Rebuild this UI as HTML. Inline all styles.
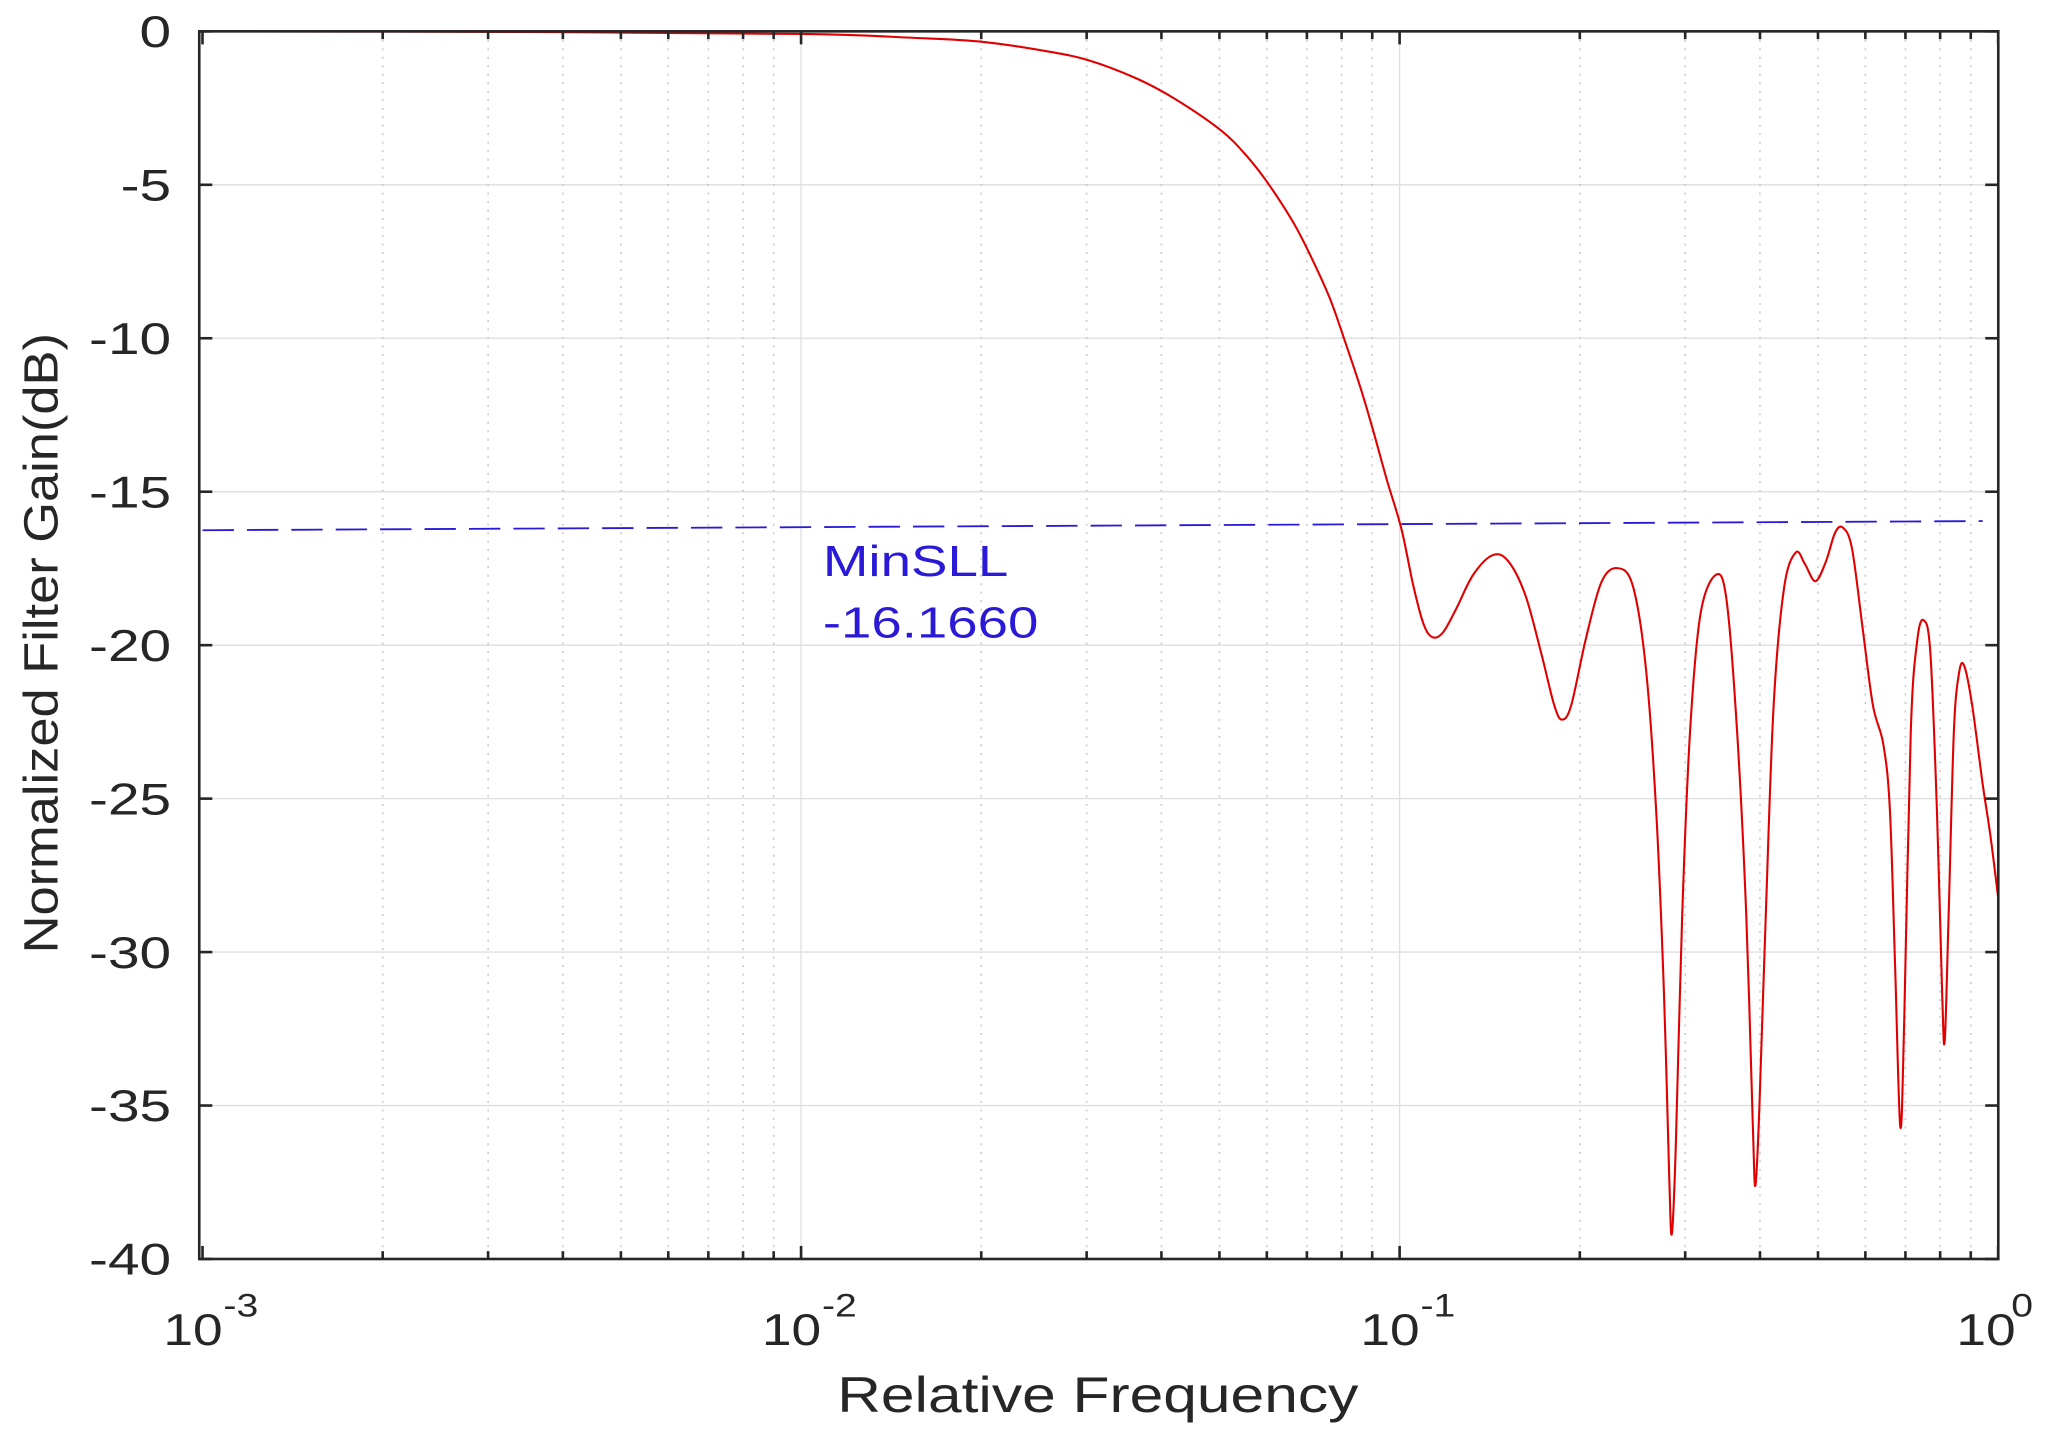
<!DOCTYPE html>
<html><head><meta charset="utf-8"><style>
html,body{margin:0;padding:0;background:#fff;}
svg{display:block;}
text{font-family:"Liberation Sans",Arial,sans-serif;fill:#262626;}
</style></head><body>
<svg id="s" width="2048" height="1434" viewBox="0 0 1568 1098" xmlns="http://www.w3.org/2000/svg">
<rect x="0" y="0" width="1568" height="1098" fill="#fff"/>
<g id="grid"></g>
<line x1="155" y1="406" x2="1518" y2="399" stroke="#2a1ad8" stroke-width="1.4" stroke-dasharray="24,10"/>
<path id="curve" fill="none" stroke="#e00000" stroke-width="1.6" stroke-linejoin="round" d=""/>
<rect x="152.5" y="24" width="1377.5" height="940" fill="none" stroke="#262626" stroke-width="2"/>
<g id="ticks"></g>
<text x="630" y="441" font-size="33" textLength="142" lengthAdjust="spacingAndGlyphs" style="fill:#2a1ad8">MinSLL</text>
<text x="630" y="488" font-size="33" textLength="165" lengthAdjust="spacingAndGlyphs" style="fill:#2a1ad8">-16.1660</text>
<text x="641" y="1081" font-size="38" textLength="399" lengthAdjust="spacingAndGlyphs">Relative Frequency</text>
<text transform="translate(44,730) rotate(-90)" font-size="37" textLength="475" lengthAdjust="spacingAndGlyphs">Normalized Filter Gain(dB)</text>
</svg>
<script>
var NS="http://www.w3.org/2000/svg";
function el(p,t,a,txt){var e=document.createElementNS(NS,t);for(var k in a)e.setAttribute(k,a[k]);if(txt!==undefined)e.textContent=txt;p.appendChild(e);return e;}
var g=document.getElementById('grid'),tk=document.getElementById('ticks'),s=document.getElementById('s');
var L=152.5,R=1530,T=24,B=964;
function X(lf){return 155+(lf+3)*458.3;}
function Y(d){return T+(-d)*(B-T)/40;}
for(var d=0;d>=-40;d-=5){var y=Y(d);
 if(d>-40&&d<0)el(g,'line',{x1:L,x2:R,y1:y,y2:y,stroke:'#dedede','stroke-width':1});
 el(tk,'line',{x1:L,x2:L+10,y1:y,y2:y,stroke:'#262626','stroke-width':2});
 el(tk,'line',{x1:R,x2:R-10,y1:y,y2:y,stroke:'#262626','stroke-width':2});
 el(s,'text',{transform:'translate(131,'+(y+12)+') scale(1.28,1)','font-size':34,'text-anchor':'end'},String(d));}
for(var e=-3;e<=0;e++){
 var x=X(e);
 if(e>-3&&e<0)el(g,'line',{x1:x,x2:x,y1:T,y2:B,stroke:'#dedede','stroke-width':1});
 el(tk,'line',{x1:x,x2:x,y1:B,y2:B-10,stroke:'#262626','stroke-width':2});
 el(tk,'line',{x1:x,x2:x,y1:T,y2:T+10,stroke:'#262626','stroke-width':2});
 var bx=x-30+(e==0?-2:0);
 el(s,'text',{transform:'translate('+bx+',1030) scale(1.2,1)','font-size':34},'10');
 el(s,'text',{transform:'translate('+(bx+(e==0?42:46))+',1008) scale(1.2,1)','font-size':25},String(e));
 if(e<0)for(var m=2;m<=9;m++){var xm=X(e+Math.log10(m));
  el(g,'line',{x1:xm,x2:xm,y1:T,y2:B,stroke:'#c8c8c8','stroke-width':1.2,'stroke-dasharray':'1.5,5'});
  el(tk,'line',{x1:xm,x2:xm,y1:B,y2:B-6,stroke:'#262626','stroke-width':2});
  el(tk,'line',{x1:xm,x2:xm,y1:T,y2:T+6,stroke:'#262626','stroke-width':2});}
}
var pts=[[155,24],[400,24.5],[614,26],[700,29],[752,32],[800,39],[833,46],[870,60],[900,76],[935,100],[955,120],[972,142],[990,170],[1003,195],[1018,228],[1030,262],[1042,298],[1052,332],[1062,368],[1073,405],[1082,448],[1090,478],[1097,488],[1105,484],[1115,466],[1128,440],[1143,425],[1155,430],[1168,456],[1180,500],[1190,540],[1196,551],[1203,540],[1214,490],[1226,446],[1238,435],[1250,448],[1260,510],[1268,620],[1274,760],[1278,900],[1280,945],[1283,880],[1288,700],[1294,560],[1302,470],[1314,440],[1322,460],[1330,560],[1337,700],[1342,860],[1344,908],[1347,850],[1352,700],[1358,540],[1366,450],[1375,423],[1382,432],[1390,445],[1398,430],[1405,408],[1411,404],[1418,420],[1426,480],[1434,540],[1442,570],[1447,620],[1451,740],[1455,863],[1458,780],[1463,560],[1468,490],[1473,475],[1478,500],[1483,620],[1487,760],[1489,797],[1492,700],[1496,560],[1500,515],[1504,510],[1510,540],[1518,600],[1524,640],[1530,688]];
var d='M'+pts[0][0]+','+pts[0][1];
for(var i=0;i<pts.length-1;i++){
 var p0=pts[Math.max(0,i-1)],p1=pts[i],p2=pts[i+1],p3=pts[Math.min(pts.length-1,i+2)];
 var k=0.5/3;
 var c1x=p1[0]+(p2[0]-p0[0])*k,c1y=p1[1]+(p2[1]-p0[1])*k;
 var c2x=p2[0]-(p3[0]-p1[0])*k,c2y=p2[1]-(p3[1]-p1[1])*k;
 c1x=Math.min(Math.max(c1x,p1[0]),p2[0]);c2x=Math.min(Math.max(c2x,p1[0]),p2[0]);
 d+=' C'+c1x.toFixed(2)+','+c1y.toFixed(2)+' '+c2x.toFixed(2)+','+c2y.toFixed(2)+' '+p2[0]+','+p2[1];
}
document.getElementById('curve').setAttribute('d',d);
</script>
</body></html>
